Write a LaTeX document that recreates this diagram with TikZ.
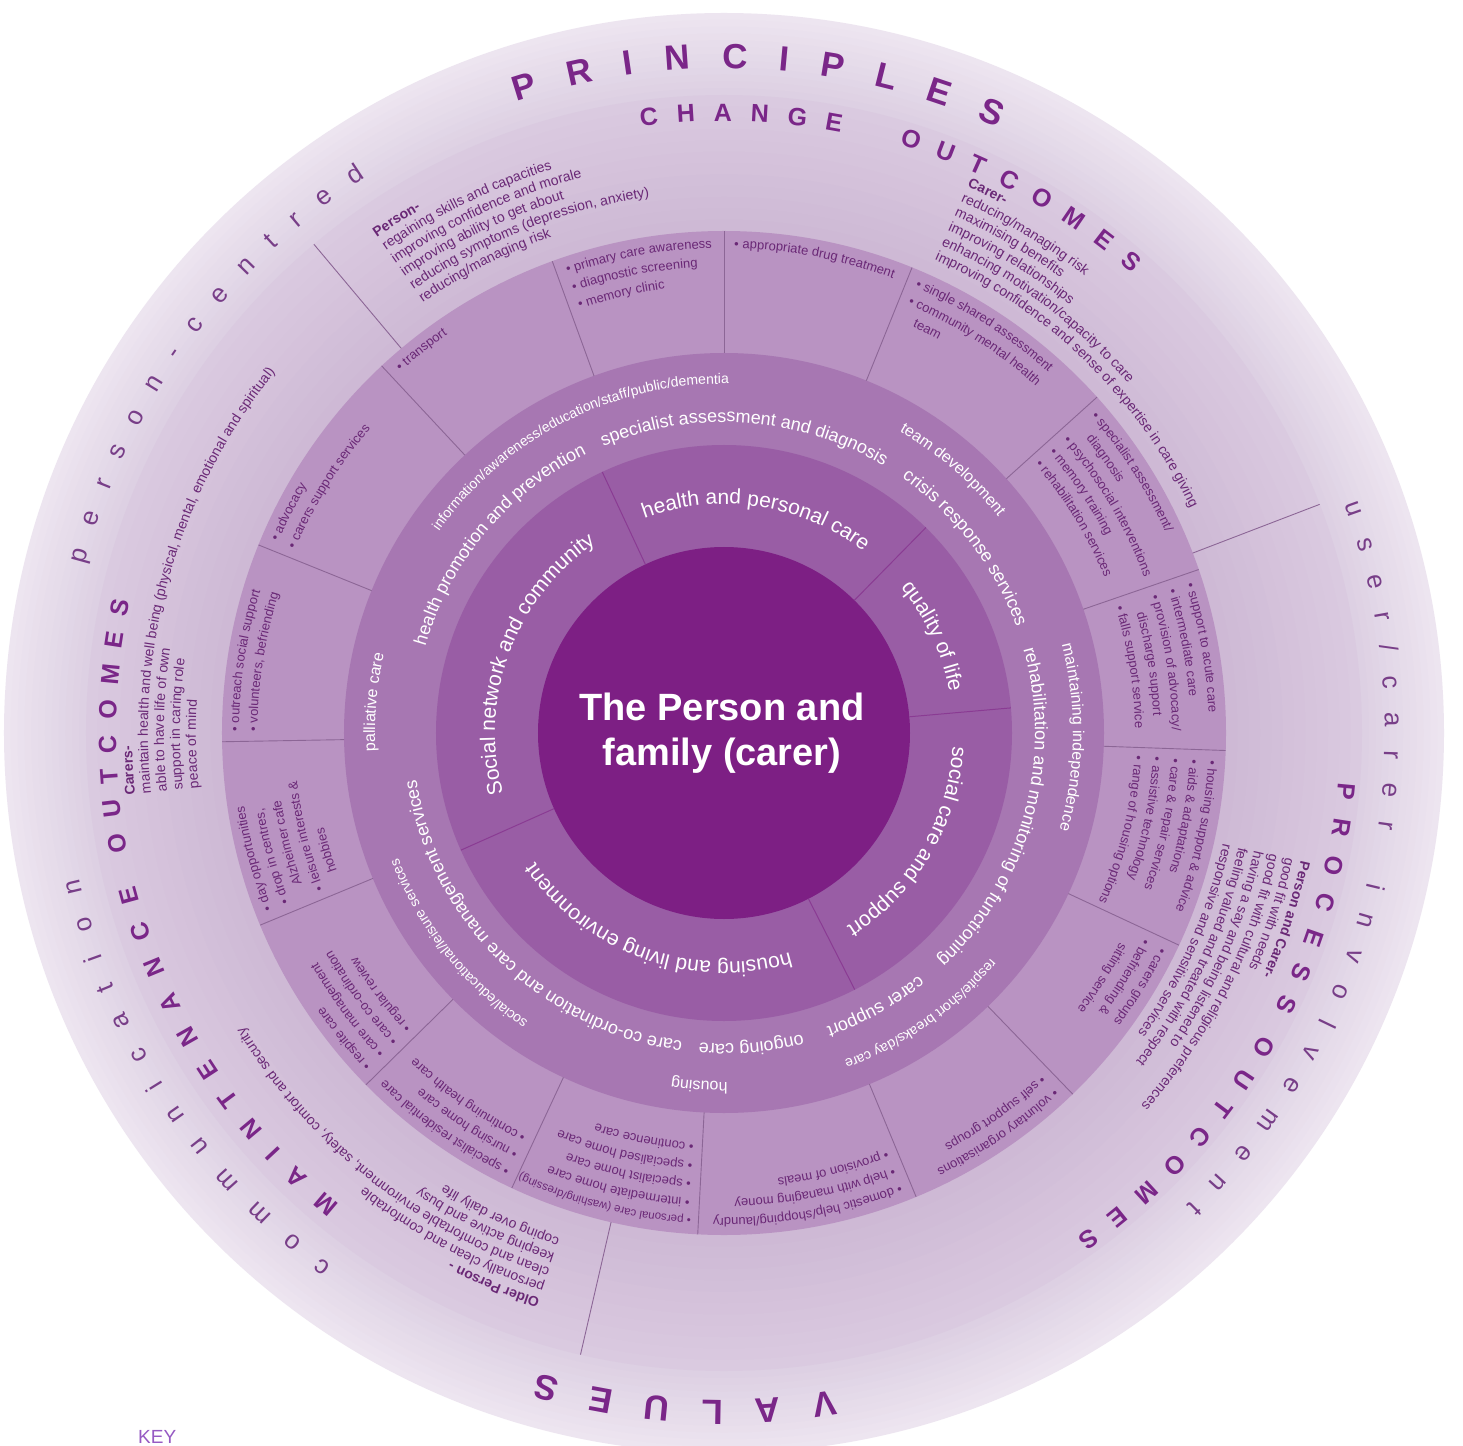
\documentclass[tikz,border=0pt]{standalone}
\usepackage{fontspec}
\setmainfont{Liberation Sans}
\usetikzlibrary{decorations.text}

\definecolor{cfivein}{RGB}{221,208,227}
\definecolor{cfiveout}{RGB}{237,229,240}
\definecolor{cfourin}{RGB}{206,185,213}
\definecolor{cfourout}{RGB}{218,202,224}
\definecolor{cthree}{RGB}{185,147,194}
\definecolor{ctwo}{RGB}{167,119,178}
\definecolor{cone}{RGB}{153,93,165}
\definecolor{czero}{RGB}{125,31,132}
\definecolor{tdark}{RGB}{106,40,118}
\definecolor{tbig}{RGB}{122,38,136}
\definecolor{tmid}{RGB}{120,62,136}
\definecolor{sepline}{RGB}{140,102,150}
\definecolor{keyc}{RGB}{150,90,195}

% #1 radius, #2 start angle, #3 end angle, #4 align, #5 colour, #6 font, #7 text
\newcommand{\arctxt}[7]{%
  \pgfmathsetmacro\atr{#1}\pgfmathsetmacro\ata{#2}\pgfmathsetmacro\atb{#3}%
  \path[decorate,decoration={text along path,text align={#4},text color=#5,text={|#6|#7}}]
    (\ata:\atr pt) arc[start angle=\ata,end angle=\atb,radius=\atr pt];}

\newcommand{\svfont}{\fontsize{13}{15}\selectfont}
\newcommand{\svsmall}{\fontsize{11.5}{13}\selectfont}
\newcommand{\svc}[3]{\arctxt{485-18.5*(#2-1)}{#1-1.2}{#1-75}{left}{tdark}{\svfont}{#3}}
\newcommand{\svs}[3]{\arctxt{485-18.5*(#2-1)}{#1-0.9}{#1-75}{left}{tdark}{\svsmall}{#3}}
\newcommand{\svi}[3]{\arctxt{485-18.5*(#2-1)}{#1-2.9}{#1-75}{left}{tdark}{\svfont}{#3}}
\newcommand{\bkf}{\fontsize{14}{16}\selectfont}
\newcommand{\bkb}{\bfseries\fontsize{14}{16}\selectfont}
% #1 start angle, #2 first baseline radius, #3 line number, #4 font, #5 text
\newcommand{\blk}[5]{\arctxt{#2-16*(#3-1)}{#1}{#1-85}{left}{tdark}{#4}{#5}}
\newcommand{\bigf}{\bfseries\fontsize{35}{40}\selectfont}
\newcommand{\midf}{\bfseries\fontsize{25}{30}\selectfont}
\newcommand{\lowf}{\fontsize{26}{30}\selectfont}
\newcommand{\bi}{\fontsize{18}{20}\selectfont}
\newcommand{\bo}{\fontsize{16}{18}\selectfont}
\newcommand{\bs}{\fontsize{14}{16}\selectfont}
\newcommand{\bc}{\fontsize{21}{24}\selectfont}

\tikzset{
  sepl/.style={draw=sepline,line width=0.9pt},
  sepc/.style={draw=czero!55!cone,line width=1pt},
  centretext/.style={text=white,font=\bfseries\fontsize{38}{45}\selectfont,align=center},
  keytext/.style={anchor=north west,inner sep=0pt,text=keyc,font=\fontsize{19}{22}\selectfont}
}

\begin{document}
\begin{tikzpicture}
\useasboundingbox (-724pt,-712pt) rectangle (739pt,733pt);
\fill[white] (-724pt,-712pt) rectangle (739pt,733pt);

% rings
\foreach \i in {0,...,11}{%
  \pgfmathsetmacro\rr{720-\i*82/12}%
  \pgfmathtruncatemacro\pp{\i*100/11}%
  \fill[cfivein!\pp!cfiveout] (0,0) circle (\rr pt);}
\foreach \i in {0,...,11}{%
  \pgfmathsetmacro\rr{638-\i*136/12}%
  \pgfmathtruncatemacro\pp{\i*100/11}%
  \fill[cfourin!\pp!cfourout] (0,0) circle (\rr pt);}
\fill[cthree] (0,0) circle (502pt);
\fill[ctwo] (0,0) circle (380pt);
\fill[cone] (0,0) circle (288pt);
\fill[czero] (0,0) circle (186pt);

% separators
\foreach \a in {130,21,-103} \draw[sepl] (\a:502pt) -- (\a:638pt);
\foreach \a in {90,68,42,19,-2,-25,-46,-67.5,-93,-115,-135.5,-157.5,-179,158,133,110}
  \draw[sepl] (\a:380pt) -- (\a:502pt);
\foreach \a in {115,45.5,5,-63,-156} \draw[sepc] (\a:186pt) -- (\a:288pt);

% outer ring texts
\arctxt{664.5}{108.2}{65.7}{fit to path}{tbig}{\bigf}{PRINCIPLES}
\arctxt{667}{-80.5}{-106.2}{fit to path}{tbig}{\bigf}{VALUES}
\arctxt{661}{165.2}{122.8}{fit to path}{tmid}{\lowf}{person-centred}
\arctxt{661}{20.2}{-45.6}{fit to path}{tmid}{\lowf}{user/carer involvement}
\arctxt{661}{233.6}{192.7}{fit to path}{tmid}{\lowf}{communication}

% outcomes ring titles
\arctxt{612}{97.8}{79}{fit to path}{tbig}{\midf}{CHANGE}
\arctxt{614}{73.4}{48.4}{fit to path}{tbig}{\midf}{OUTCOMES}
\arctxt{616}{-4.6}{-26.6}{fit to path}{tbig}{\midf}{PROCESS}
\arctxt{616}{-29.3}{-55}{fit to path}{tbig}{\midf}{OUTCOMES}
\arctxt{608}{230.8}{194.5}{fit to path}{tbig}{\midf}{MAINTENANCE}
\arctxt{608}{191.2}{167.5}{fit to path}{tbig}{\midf}{OUTCOMES}

% outcomes blocks
\blk{125}{605}{1}{\bkb}{Person-}
\blk{125}{605}{2}{\bkf}{regaining skills and capacities}
\blk{125}{605}{3}{\bkf}{improving confidence and morale}
\blk{125}{605}{4}{\bkf}{improving ability to get about}
\blk{125}{605}{5}{\bkf}{reducing symptoms (depression, anxiety)}
\blk{125}{605}{6}{\bkf}{reducing/managing risk}

\blk{66}{598}{1}{\bkb}{Carer-}
\blk{66}{598}{2}{\bkf}{reducing/managing risk}
\blk{66}{598}{3}{\bkf}{maximising benefits}
\blk{66}{598}{4}{\bkf}{improving relationships}
\blk{66}{598}{5}{\bkf}{enhancing motivation/capacity to care}
\blk{66}{598}{6}{\bkf}{improving confidence and sense of expertise in care giving}

\blk{186}{592}{1}{\bkb}{Carers-}
\blk{186}{592}{2}{\bkf}{maintain health and well being (physical, mental, emotional and spiritual)}
\blk{186}{592}{3}{\bkf}{able to have life of own}
\blk{186}{592}{4}{\bkf}{support in caring role}
\blk{186}{592}{5}{\bkf}{peace of mind}

\blk{252}{595}{1}{\bkb}{Older Person -}
\blk{252}{595}{2}{\bkf}{personally clean and comfortable}
\blk{252}{595}{3}{\bkf}{clean and comfortable environment, safety, comfort and security}
\blk{252}{595}{4}{\bkf}{keeping active and busy}
\blk{252}{595}{5}{\bkf}{coping over daily life}

\blk{-12.5}{591}{1}{\bkb}{Person and Carer-}
\blk{-12.5}{591}{2}{\bkf}{good fit with needs}
\blk{-12.5}{591}{3}{\bkf}{good fit with cultural and religious preferences}
\blk{-12.5}{591}{4}{\bkf}{having a say and being listened to}
\blk{-12.5}{591}{5}{\bkf}{feeling valued and treated with respect}
\blk{-12.5}{591}{6}{\bkf}{responsive and sensitive services}

% services ring
\svc{90}{1}{• appropriate drug treatment}
\svc{110}{1}{• primary care awareness}
\svc{110}{2}{• diagnostic screening}
\svc{110}{3}{• memory clinic}
\svc{133}{1}{• transport}
\svc{158}{1}{• advocacy}
\svc{158}{2}{• carers support services}
\svc{181}{1}{• outreach social support}
\svc{181}{2}{• volunteers, befriending}
\svc{202.5}{1}{• day opportunities}
\svc{202.5}{2}{• drop in centres,}
\svi{202.5}{3}{Alzheimer cafe}
\svc{202.5}{4}{• leisure interests {\&}}
\svi{202.5}{5}{hobbies}
\svc{224.5}{1}{• respite care}
\svc{224.5}{2}{• care management}
\svc{224.5}{3}{• care co-ordination}
\svc{224.5}{4}{• regular review}
\svc{245}{1}{• specialist residential care}
\svc{245}{2}{• nursing home care}
\svc{245}{3}{• continuing health care}
\svs{267}{1}{• personal care (washing/dressing)}
\svc{267}{2}{• intermediate home care}
\svc{267}{3}{• specialist home care}
\svc{267}{4}{• specialised home care}
\svc{267}{5}{• continence care}
\svc{-67.5}{1}{• domestic help/shopping/laundry}
\svc{-67.5}{2}{• help with managing money}
\svc{-67.5}{3}{• provision of meals}
\svc{-46}{1}{• voluntary organisations}
\svc{-46}{2}{• self support groups}
\svc{-25}{1}{• carers groups}
\svc{-25}{2}{• befriending {\&}}
\svi{-25}{3}{sitting service}
\svc{-2}{1}{• housing support {\&} advice}
\svc{-2}{2}{• aids {\&} adaptations}
\svc{-2}{3}{• care {\&} repair services}
\svc{-2}{4}{• assistive technology}
\svc{-2}{5}{• range of housing options}
\svc{19}{1}{• support to acute care}
\svc{19}{2}{• intermediate care}
\svc{19}{3}{• provision of advocacy/}
\svi{19}{4}{discharge support}
\svc{19}{5}{• falls support service}
\svc{42}{1}{• specialist assessment/}
\svi{42}{2}{diagnosis}
\svc{42}{3}{• psychosocial interventions}
\svc{42}{4}{• memory training}
\svc{42}{5}{• rehabilitation services}
\svc{68}{1}{• single shared assessment}
\svc{68}{2}{• community mental health}
\svi{68}{3}{team}

% band 2 (white)
\arctxt{349}{117+45}{117-45}{center}{white}{\bs}{information/awareness/education/staff/public/dementia}
\arctxt{311}{140+40}{140-40}{center}{white}{\bi}{health promotion and prevention}
\arctxt{311}{86+40}{86-40}{center}{white}{\bi}{specialist assessment and diagnosis}
\arctxt{349}{49+40}{49-40}{center}{white}{\bo}{team development}
\arctxt{311}{37.5+40}{37.5-40}{center}{white}{\bi}{crisis response services}
\arctxt{349}{-0.7+40}{-0.7-40}{center}{white}{\bo}{maintaining independence}
\arctxt{311}{-15.5+40}{-15.5-40}{center}{white}{\bi}{rehabilitation and monitoring of functioning}
\arctxt{349}{-55+40}{-55-40}{center}{white}{\bs}{respite/short breaks/day care}
\arctxt{311}{-61+30}{-61-30}{center}{white}{\bi}{carer support}
\arctxt{311}{-85+30}{-85-30}{center}{white}{\bi}{ongoing care}
\arctxt{349}{-94+30}{-94-30}{center}{white}{\bo}{housing}
\arctxt{311}{-134.5+45}{-134.5-45}{center}{white}{\bi}{care co-ordination and care management services}
\arctxt{349}{218.5+40}{218.5-40}{center}{white}{\bs}{social/educational/leisure services}
\arctxt{349}{175+30}{175-30}{center}{white}{\bo}{palliative care}

% band 1 (white)
\arctxt{229}{81.4+50}{81.4-50}{center}{white}{\bc}{health and personal care}
\arctxt{229}{24.9+40}{24.9-40}{center}{white}{\bc}{quality of life}
\arctxt{229}{-30.5+45}{-30.5-45}{center}{white}{\bc}{social care and support}
\arctxt{229}{-109.5+50}{-109.5-50}{center}{white}{\bc}{housing and living environment}
\arctxt{229}{159.7+50}{159.7-50}{center}{white}{\bc}{Social network and community}

% centre
\node[centretext] (ctr) at (-2pt,0pt) {The Person and\\family (carer)};

% key
\node[keytext] (key) at (-586pt,-697pt) {KEY};
\end{tikzpicture}
\end{document}
